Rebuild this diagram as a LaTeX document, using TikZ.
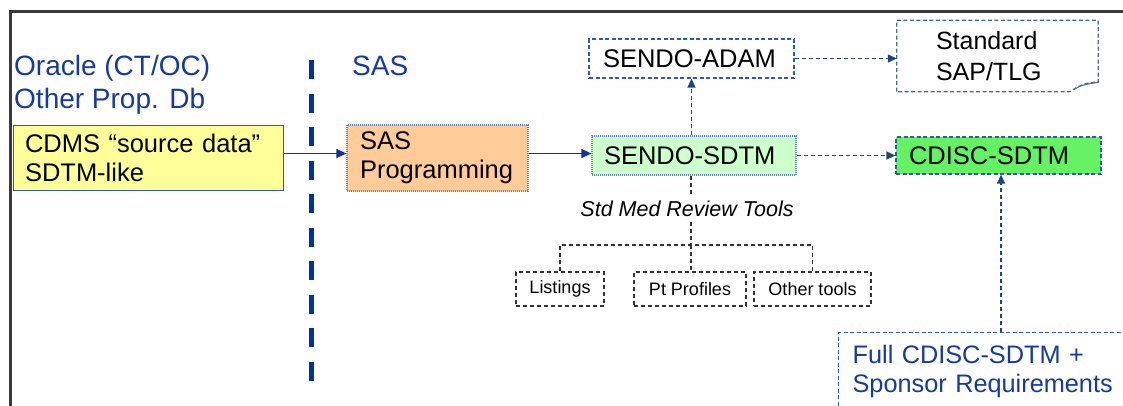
\documentclass[tikz,border=0pt]{standalone}
\usepackage{fontspec}
\setmainfont{Liberation Sans}
\usetikzlibrary{arrows.meta,calc}
\definecolor{framegray}{RGB}{58,58,58}
\definecolor{bluetext}{RGB}{22,58,158}
\definecolor{sepblue}{RGB}{0,51,153}
\definecolor{arrowblue}{RGB}{20,50,150}
\definecolor{connblue}{RGB}{30,70,120}
\definecolor{borderblue}{RGB}{45,90,170}
\definecolor{dotblue}{RGB}{100,130,200}
\definecolor{yellowfill}{RGB}{255,255,153}
\definecolor{orangefill}{RGB}{255,204,153}
\definecolor{lightgreen}{RGB}{204,255,204}
\definecolor{brightgreen}{RGB}{100,242,100}
\definecolor{stdborder}{RGB}{70,110,140}
\definecolor{treegray}{RGB}{50,50,50}
\begin{document}
\begin{tikzpicture}[x=1pt,y=-1pt,
  bigfont/.style={font=\fontsize{25.5}{29}\selectfont},
  boxbase/.style={rectangle, align=left, inner ysep=0pt, bigfont},
  solidbox/.style={boxbase, draw=borderblue, line width=1pt},
  dotbox/.style={boxbase, draw=dotblue, line width=1.2pt, dash pattern=on 1pt off 1pt},
  dashbox/.style={boxbase, draw=borderblue, line width=1.2pt, dash pattern=on 4pt off 2.5pt},
  toolbox/.style={rectangle, draw=treegray, line width=1.1pt, dash pattern=on 4pt off 3pt,
    font=\fontsize{18}{20}\selectfont, minimum height=34pt, inner sep=0pt},
  solidarrow/.style={draw=arrowblue, line width=1.4pt, -{Triangle[length=10pt,width=9pt]}},
  dasharrow/.style={draw=connblue, line width=1.3pt, dash pattern=on 4pt off 3pt,
    -{Triangle[length=9pt,width=8pt]}},
  treeline/.style={draw=treegray, line width=1.1pt, dash pattern=on 4pt off 3pt},
  sepline/.style={draw=sepblue, line width=5pt, dash pattern=on 19pt off 14.5pt}
]
\useasboundingbox (0,0) rectangle (1123,405);
\clip (0,0) rectangle (1123,405);
\fill[white] (0,0) rectangle (1123,405);

% frame
\draw[framegray, line width=3pt] (1130,11) -- (10,11) -- (10,410);

% separator
\coordinate (septop) at (311,60);
\coordinate (sepbot) at (311,385);
\draw[sepline] (septop) -- (sepbot);

% headings
\node (oracle) [anchor=base west, inner sep=0pt, align=left, text=bluetext,
  font=\fontsize{28}{33}\selectfont] at (14,108) {Oracle (CT/OC)\\Other Prop. Db};
\node (sas) [anchor=base west, inner sep=0pt, text=bluetext,
  font=\fontsize{28}{33}\selectfont] at (352,75) {SAS};

% boxes
\node (cdms) [solidbox, fill=yellowfill, minimum width=270pt, minimum height=65pt,
  text width=246pt, inner xsep=12pt] at (148,157.5) {CDMS “source data”\\SDTM-like};
\node (sasprog) [dotbox, fill=orangefill, minimum width=181pt, minimum height=66pt,
  text width=155pt, inner xsep=13pt] at (437.5,158) {SAS\\Programming};
\node (sdtm) [dotbox, fill=lightgreen, minimum width=204pt, minimum height=39pt,
  text width=180pt, inner xsep=12pt] at (694,155.5) {SENDO-SDTM};
\node (adam) [dashbox, fill=white, minimum width=205pt, minimum height=39pt,
  text width=177pt, inner xsep=14pt] at (691.5,58.5) {SENDO-ADAM};
\node (std) [boxbase, font=\fontsize{25}{31}\selectfont, minimum width=201pt, minimum height=71pt,
  text width=123pt, inner xsep=39pt] at (997.5,56) {Standard\\SAP/TLG};
\node (cdisc) [dashbox, fill=brightgreen, minimum width=205pt, minimum height=37pt,
  text width=179pt, inner xsep=13pt] at (998.5,155.5) {CDISC-SDTM};
\node (full) [dashbox, text=bluetext, anchor=north west, text width=292pt, inner xsep=14pt,
  inner ysep=12.5pt, font=\fontsize{25.3}{29}\selectfont] at (838,332)
  {Full CDISC-SDTM +\\Sponsor Requirements};

% document outline for Standard SAP/TLG
\coordinate (curlR) at ($(std.south east)+(0,-9.5)$);
\coordinate (curlB) at ($(std.south east)+(-28,0)$);
\draw[stdborder, line width=1.2pt, dash pattern=on 4pt off 2.5pt]
  (std.south west) -- (std.north west) -- (std.north east) -- (curlR)
  .. controls (1086,82) and (1078,86) .. (curlB) -- cycle;
\draw[stdborder, line width=1pt]
  (curlR) .. controls (1090,84) and (1082,84) .. (1074,89.5);

% tools
\node (tools) [font=\itshape\fontsize{21.5}{24}\selectfont, anchor=base, inner sep=5pt]
  at (687,216.5) {Std Med Review Tools};
\node (listings) [toolbox, minimum width=88pt] at (560,289) {Listings};
\node (ptprof) [toolbox, minimum width=112pt] at (690,289) {Pt Profiles};
\node (other) [toolbox, minimum width=117pt] at (812.5,289) {Other tools};

% connectors
\coordinate (row) at (0,153.5);
\draw[solidarrow] (cdms.east |- row) -- (sasprog.west |- row);
\draw[solidarrow] (sasprog.east |- row) -- (sdtm.west |- row);
\draw[dasharrow] (adam.south |- sdtm.north) -- (adam.south);
\draw[dasharrow] (adam.east) -- (adam.east -| std.west);
\draw[dasharrow] (sdtm.east) -- (sdtm.east -| cdisc.west);
\draw[dasharrow] ([xshift=2.5pt]cdisc.south |- full.north) -- ([xshift=2.5pt]cdisc.south);

\coordinate (hub) at (691,245);
\draw[treeline] (hub |- sdtm.south) -- (hub |- tools.north);
\draw[treeline] (hub |- tools.south) -- (hub);
\draw[treeline] (listings.north) |- (hub) -| (other.north);
\draw[treeline] (hub) -- (hub |- ptprof.north);
\end{tikzpicture}
\end{document}
